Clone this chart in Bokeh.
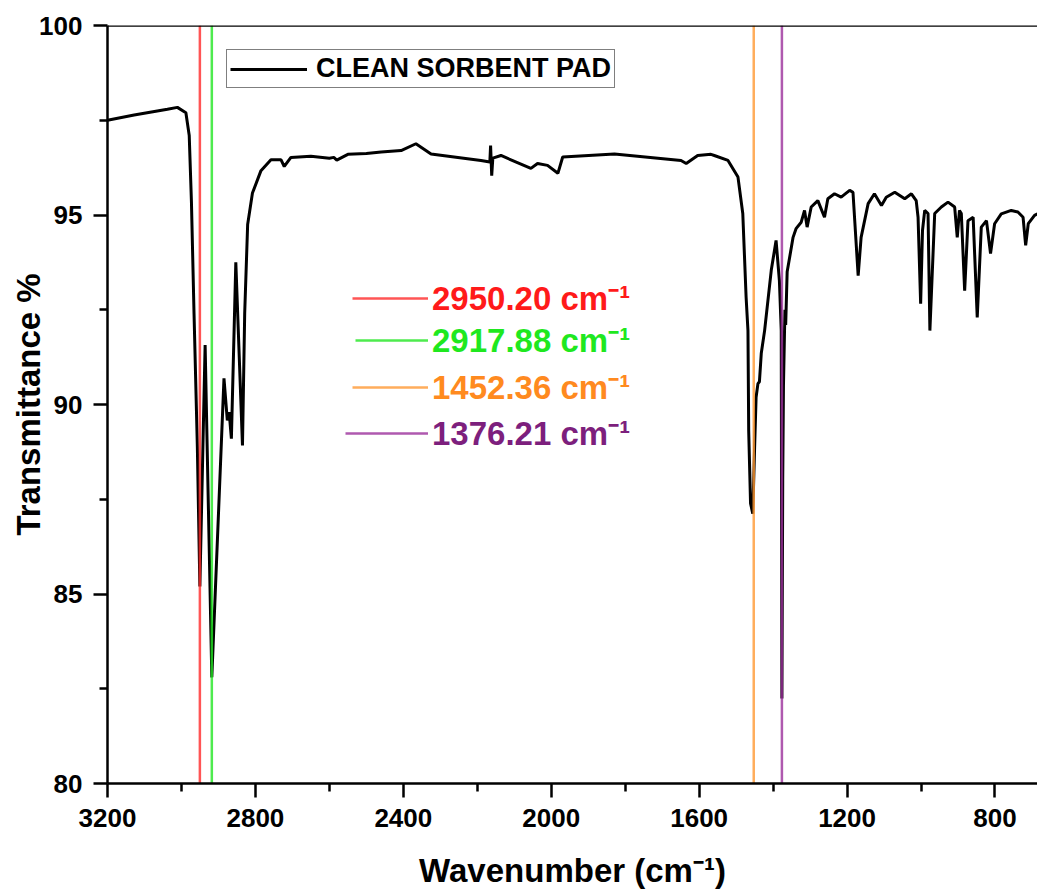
import math
from bokeh.plotting import figure
from bokeh.models import Range1d, FixedTicker, Span, Legend, LegendItem
from bokeh.embed import file_html
from bokeh.resources import INLINE

# ---------------- data ----------------
wavenumber = [3200, 3128, 3038, 3011, 2988, 2979, 2973, 2966, 2957, 2950.2,
              2936, 2917.9, 2885, 2876, 2871, 2865, 2853, 2835, 2829, 2821,
              2808, 2785, 2758, 2731, 2722, 2704, 2650, 2600, 2588, 2580,
              2550, 2500, 2460, 2406, 2366, 2325, 2190, 2166, 2164, 2161,
              2158, 2136, 2055, 2037, 2010, 1982, 1969, 1829, 1649, 1635,
              1604, 1568, 1559, 1522, 1495, 1482, 1473, 1468, 1466, 1461,
              1455, 1450, 1446, 1441, 1437, 1432, 1423, 1405, 1392, 1383,
              1378, 1376.2, 1374, 1372, 1368, 1366, 1362, 1346, 1338, 1324,
              1315, 1308, 1297, 1279, 1261, 1252, 1234, 1216, 1193, 1184,
              1170, 1162, 1143, 1126, 1107, 1094, 1071, 1044, 1026, 1013,
              1008, 1001, 996, 990, 981, 976, 963, 945, 927, 909,
              902, 896, 891, 882, 873, 859, 848, 837, 823, 812,
              801, 783, 756, 738, 724, 717, 710, 693, 685]
transmittance = [97.50, 97.64, 97.79, 97.84, 97.70, 97.10, 95.34, 92.40, 88.87, 85.20,
                 91.57, 82.80, 90.69, 89.58, 89.80, 89.10, 93.75, 88.92, 92.40, 94.75,
                 95.58, 96.17, 96.46, 96.46, 96.28, 96.52, 96.55, 96.50, 96.52, 96.45,
                 96.60, 96.62, 96.66, 96.70, 96.88, 96.61, 96.44, 96.40, 96.83, 96.04,
                 96.50, 96.57, 96.23, 96.36, 96.31, 96.10, 96.53, 96.61, 96.44, 96.36,
                 96.57, 96.60, 96.57, 96.44, 96.00, 95.04, 92.83, 91.95, 89.30, 87.39,
                 87.12, 88.87, 90.19, 90.55, 90.60, 91.35, 91.95, 93.54, 94.33, 93.27,
                 91.95, 82.24, 88.00, 90.50, 92.50, 92.10, 93.50, 94.41, 94.64, 94.81,
                 95.12, 94.68, 95.21, 95.38, 94.94, 95.43, 95.56, 95.47, 95.65, 95.60,
                 93.40, 94.41, 95.30, 95.56, 95.25, 95.47, 95.60, 95.43, 95.56, 95.38,
                 94.94, 92.66, 94.59, 95.12, 95.04, 91.95, 95.04, 95.21, 95.34, 95.21,
                 94.41, 95.12, 95.04, 93.00, 94.85, 94.94, 92.30, 94.68, 94.85, 93.98,
                 94.77, 95.03, 95.12, 95.08, 94.94, 94.20, 94.77, 94.99, 95.03]

series_name = "CLEAN SORBENT PAD"
peak_wavenumbers = [2950.20, 2917.88, 1452.36, 1376.21]
peak_labels = ["2950.20 cm\u207b\u00b9", "2917.88 cm\u207b\u00b9",
               "1452.36 cm\u207b\u00b9", "1376.21 cm\u207b\u00b9"]
peak_line_colors = ["#ff2a2a", "#22e622", "#ff9933", "#9b2f9b"]
peak_text_colors = ["#ff1a1a", "#1fe81f", "#ff8a1f", "#7d1f7d"]

x_ticks = [3200, 2800, 2400, 2000, 1600, 1200, 800]
x_minor_ticks = [3000, 2600, 2200, 1800, 1400, 1000]
y_ticks = [80, 85, 90, 95, 100]
y_minor_ticks = [82.5, 87.5, 92.5, 97.5]
x_start, x_end = 3200, 685
y_start, y_end = 80, 100

FONT = "Liberation Sans"

p = figure(width=1037, height=892,
           x_range=Range1d(x_start, x_end), y_range=Range1d(y_start, y_end),
           output_backend="svg", toolbar_location=None,
           min_border_left=107, min_border_right=0,
           min_border_top=25, min_border_bottom=109)
p.xgrid.visible = False
p.ygrid.visible = False
p.outline_line_color = None
p.background_fill_color = "white"
p.border_fill_color = "white"

for ax in (p.xaxis[0], p.yaxis[0]):
    ax.axis_line_width = 2.5
    ax.axis_line_color = "black"
    ax.major_tick_line_width = 2.5
    ax.minor_tick_line_width = 2.5
    ax.major_tick_out = 14
    ax.major_tick_in = 0
    ax.minor_tick_out = 8
    ax.minor_tick_in = 0
    ax.major_label_text_font = FONT
    ax.major_label_text_font_style = "bold"
    ax.major_label_text_font_size = "26px"
    ax.major_label_text_color = "black"
    ax.axis_label_text_font = FONT
    ax.axis_label_text_font_style = "bold"
    ax.axis_label_text_font_size = "33px"
    ax.axis_label_text_color = "black"

p.xaxis.ticker = FixedTicker(ticks=x_ticks, minor_ticks=x_minor_ticks)
p.yaxis.ticker = FixedTicker(ticks=y_ticks, minor_ticks=y_minor_ticks)
p.xaxis.major_label_standoff = 11
p.yaxis.major_label_standoff = 11

p.xaxis.axis_label = "Wavenumber (cm\u207b\u00b9)"
p.xaxis.axis_label_standoff = 22
p.yaxis.axis_label = "Transmittance %"
p.yaxis.axis_label_standoff = -11

# top border line
p.add_layout(Span(location=y_end, dimension="width", line_color="black", line_width=2.5))

# spectrum
spec = p.line(wavenumber, transmittance, line_color="black", line_width=3)

# vertical peak markers
peak_renderers = []
for w, c in zip(peak_wavenumbers, peak_line_colors):
    r = p.line([w, w], [y_start, y_end], line_color=c, line_width=2.5, line_alpha=0.8)
    peak_renderers.append(r)

# main legend
main_leg = Legend(items=[LegendItem(label=series_name, renderers=[spec])],
                  location=(119, 695), orientation="vertical",
                  border_line_color="black", border_line_width=1.5,
                  background_fill_color="white", background_fill_alpha=1,
                  label_text_font=FONT, label_text_font_style="bold",
                  label_text_font_size="27px", label_text_color="black",
                  glyph_width=77, glyph_height=26, label_height=26,
                  label_standoff=9, padding=3, margin=0, spacing=0)
p.add_layout(main_leg)

# peak legends
centers = [301, 343, 390, 436]
starts = [352, 355, 352, 345]
for r, lab, tc, cy, sx in zip(peak_renderers, peak_labels, peak_text_colors, centers, starts):
    leg = Legend(items=[LegendItem(label=lab, renderers=[r])],
                 location=(sx - 107, 783 - cy - 19),
                 border_line_color=None, background_fill_alpha=0,
                 label_text_font=FONT, label_text_font_style="bold",
                 label_text_font_size="33px", label_text_color=tc,
                 glyph_width=428 - sx, glyph_height=30, label_height=30,
                 label_standoff=4, padding=0, margin=0, spacing=0)
    p.add_layout(leg)

open("out.html", "w").write(file_html(p, INLINE))
